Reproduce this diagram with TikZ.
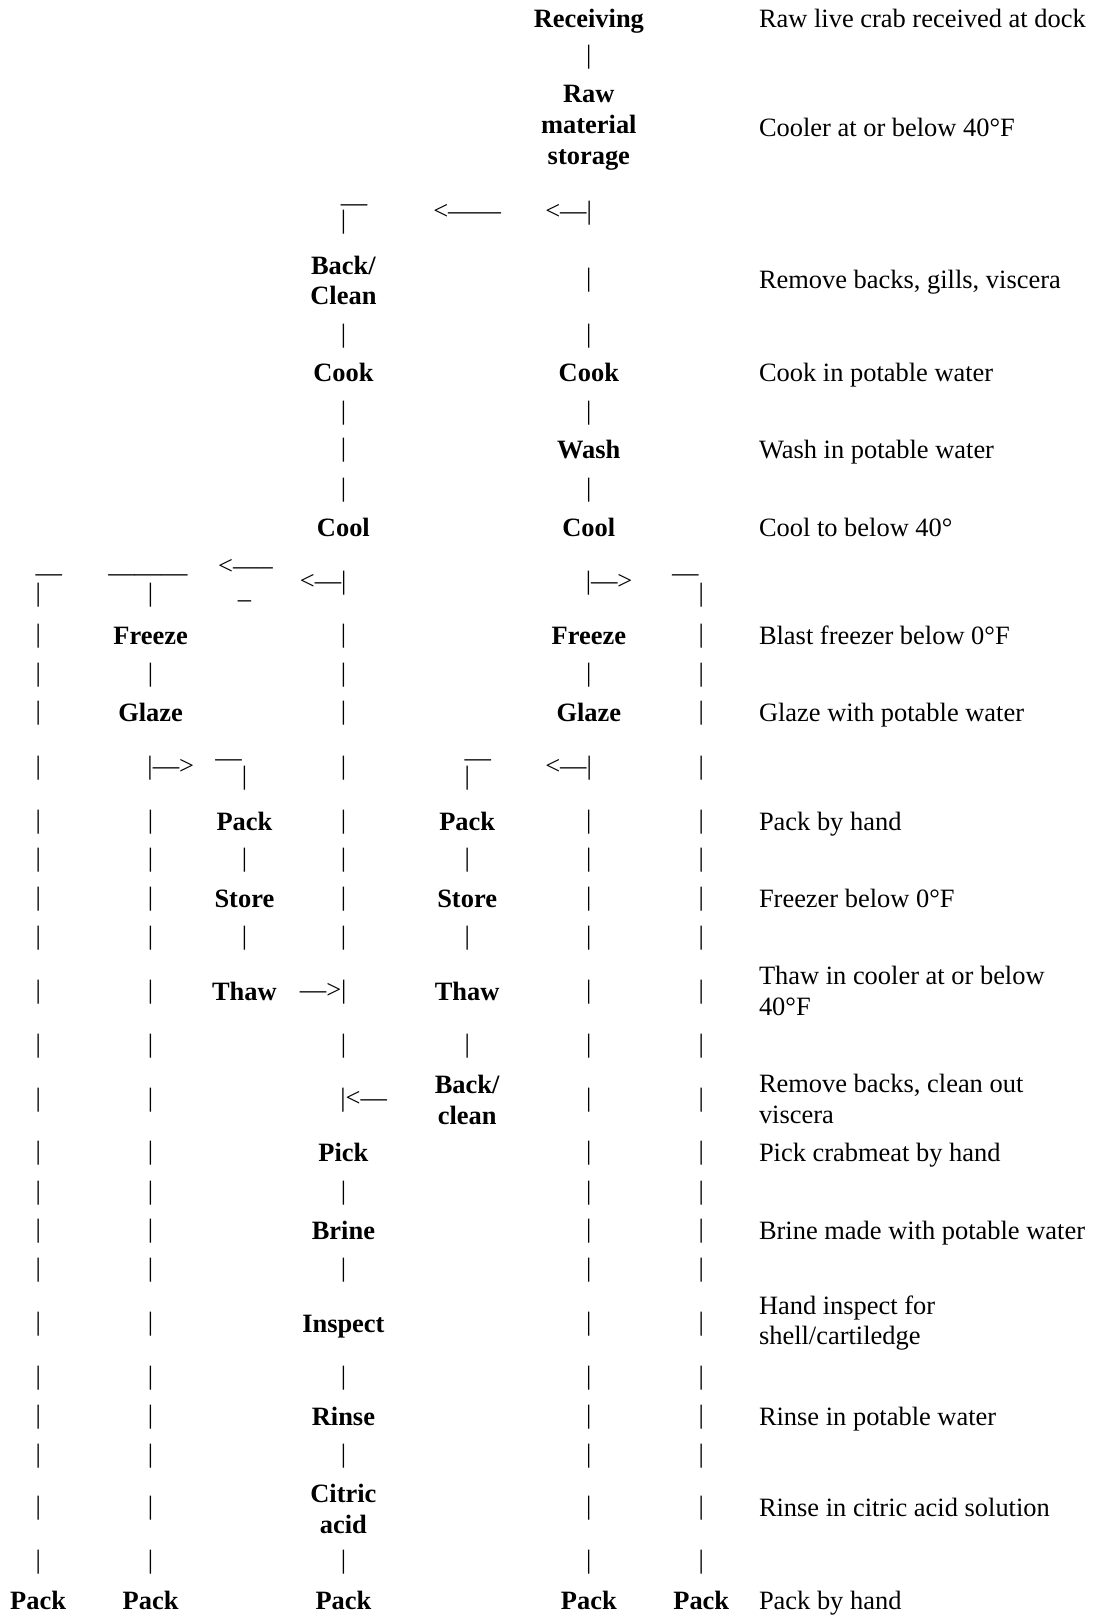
\documentclass[tikz,border=0pt]{standalone}
\usepackage{fontspec}
\setmainfont{Liberation Serif}
\newcommand{\cornR}[1]{\makebox[0pt][l]{\raisebox{#1}{—}}|}
\newcommand{\cornL}[1]{\makebox[0pt][r]{\raisebox{#1}{—}}|}
\newcommand{\cornT}[1]{\makebox[0pt][c]{\raisebox{#1}{———}}|}
\begin{document}
\begin{tikzpicture}[x=0.468pt,y=-0.468pt,
  every node/.style={font=\fontsize{12}{14}\selectfont, inner sep=0pt, outer sep=0pt},
  stp/.style={font=\fontsize{12}{14}\selectfont\bfseries, align=center},
  desc/.style={align=left},
  glyph/.style={anchor=base}]
\useasboundingbox (0,0) rectangle (1061,1568);

% ---------- process steps ----------
\node[stp,anchor=base] (receiving) at (571,27) {Receiving};
\node[stp] (rawstore) at (571,124) {Raw\\material\\storage};
\node[stp] (backcleanA) at (333,272) {Back/\\Clean};
\node[stp,anchor=base] (cookD) at (333,370) {Cook};
\node[stp,anchor=base] (cookF) at (571,370) {Cook};
\node[stp,anchor=base] (wash) at (571,445) {Wash};
\node[stp,anchor=base] (coolD) at (333,520) {Cool};
\node[stp,anchor=base] (coolF) at (571,520) {Cool};
\node[stp,anchor=base] (freezeB) at (146,625) {Freeze};
\node[stp,anchor=base] (freezeF) at (571,625) {Freeze};
\node[stp,anchor=base] (glazeB) at (146,700) {Glaze};
\node[stp,anchor=base] (glazeF) at (571,700) {Glaze};
\node[stp,anchor=base] (packC) at (237,805) {Pack};
\node[stp,anchor=base] (packE) at (453,805) {Pack};
\node[stp,anchor=base] (storeC) at (237,880) {Store};
\node[stp,anchor=base] (storeE) at (453,880) {Store};
\node[stp,anchor=base] (thawC) at (237,970) {Thaw};
\node[stp,anchor=base] (thawE) at (453,970) {Thaw};
\node[stp] (backcleanB) at (453,1067) {Back/\\clean};
\node[stp,anchor=base] (pick) at (333,1126) {Pick};
\node[stp,anchor=base] (brine) at (333,1202) {Brine};
\node[stp,anchor=base] (inspect) at (333,1292) {Inspect};
\node[stp,anchor=base] (rinse) at (333,1382) {Rinse};
\node[stp] (citric) at (333,1463) {Citric\\acid};
\node[stp,anchor=base] (packA) at (37,1561) {Pack};
\node[stp,anchor=base] (packB) at (146,1561) {Pack};
\node[stp,anchor=base] (packD) at (333,1561) {Pack};
\node[stp,anchor=base] (packF) at (571,1561) {Pack};
\node[stp,anchor=base] (packG) at (680,1561) {Pack};

% ---------- descriptions ----------
\node[desc,anchor=base west] (d1) at (736,27) {Raw live crab received at dock};
\node[desc,anchor=base west] (d2) at (736,132) {Cooler at or below 40°F};
\node[desc,anchor=base west] (d3) at (736,280) {Remove backs, gills, viscera};
\node[desc,anchor=base west] (d4) at (736,370) {Cook in potable water};
\node[desc,anchor=base west] (d5) at (736,445) {Wash in potable water};
\node[desc,anchor=base west] (d6) at (736,520) {Cool to below 40°};
\node[desc,anchor=base west] (d7) at (736,625) {Blast freezer below 0°F};
\node[desc,anchor=base west] (d8) at (736,700) {Glaze with potable water};
\node[desc,anchor=base west] (d9) at (736,805) {Pack by hand};
\node[desc,anchor=base west] (d10) at (736,880) {Freezer below 0°F};
\node[desc,anchor=west] (d11) at (736,961) {Thaw in cooler at or below\\40°F};
\node[desc,anchor=west] (d12) at (736,1066) {Remove backs, clean out\\viscera};
\node[desc,anchor=base west] (d13) at (736,1126) {Pick crabmeat by hand};
\node[desc,anchor=base west] (d14) at (736,1202) {Brine made with potable water};
\node[desc,anchor=west] (d15) at (736,1283) {Hand inspect for\\shell/cartiledge};
\node[desc,anchor=base west] (d16) at (736,1382) {Rinse in potable water};
\node[desc,anchor=base west] (d17) at (736,1471) {Rinse in citric acid solution};
\node[desc,anchor=base west] (d18) at (736,1561) {Pack by hand};

% ---------- text connectors: vertical bars ----------
\foreach \y/\cols in {56/{571}, 272/{571}, 326/{333,571}, 401/{333,571},
    437/{333}, 475/{333,571},
    617/{37,333,680}, 655/{37,146,333,571,680}, 692/{37,333,680},
    745/{37,333,680}, 797/{37,146,333,571,680},
    834/{37,146,237,333,453,571,680}, 872/{37,146,333,571,680},
    910/{37,146,237,333,453,571,680}, 962/{37,146,571,680},
    1015/{37,146,333,453,571,680}, 1067/{37,146,571,680},
    1118/{37,146,571,680}, 1157/{37,146,333,571,680},
    1194/{37,146,571,680}, 1232/{37,146,333,571,680},
    1284/{37,146,571,680}, 1337/{37,146,333,571,680},
    1374/{37,146,571,680}, 1412/{37,146,333,571,680},
    1463/{37,146,571,680}, 1515/{37,146,333,571,680}} {
  \foreach \c in \cols {
    \node[glyph] (v-\c-\y) at (\c,\y+6) {|};
  }
}

% ---------- branch row under raw material storage ----------
\node[glyph] (cornD) at (333,222) {\cornR{8pt}};
\node[glyph] (arrowMid) at (453,213) {<——};
\node[glyph,anchor=base east] (arrowF1) at (574,213) {<—|};

% ---------- branch row under cool ----------
\node[glyph] (cornA) at (37,583) {\cornR{9pt}};
\node[glyph] (cornB) at (146,583) {\cornT{9pt}};
\node[glyph] (arrowC) at (238,557) {<—–};
\node[glyph] (tickC) at (237,589) {–};
\node[glyph,anchor=base east] (arrowD) at (336,572) {<—|};
\node[glyph,anchor=base west] (arrowF2) at (568,572) {|—>};
\node[glyph] (cornG) at (680,583) {\cornL{9pt}};

% ---------- branch row under glaze ----------
\node[glyph,anchor=base west] (arrowB) at (143,751) {|—>};
\node[glyph] (cornC) at (237,761) {\cornL{8.5pt}};
\node[glyph] (cornE) at (453,761) {\cornR{8.5pt}};
\node[glyph,anchor=base east] (arrowF3) at (574,751) {<—|};

% ---------- thaw / back-clean joins ----------
\node[glyph,anchor=base east] (arrowThaw) at (336,968) {—>|};
\node[glyph,anchor=base west] (arrowBack) at (330,1073) {|<—};
\end{tikzpicture}
\end{document}
